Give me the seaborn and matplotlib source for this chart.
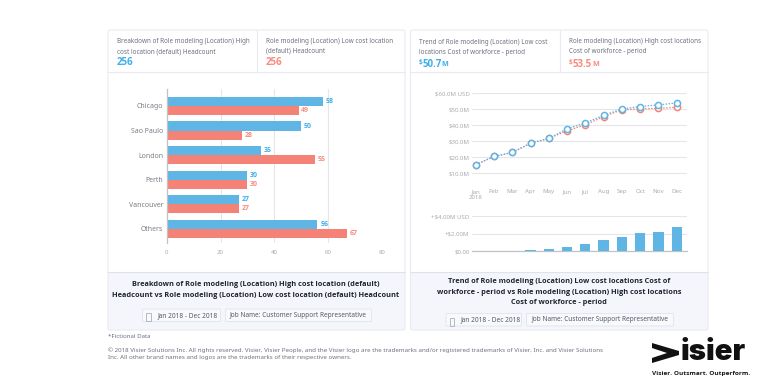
import matplotlib
matplotlib.use("Agg")
import matplotlib.pyplot as plt
from matplotlib.patches import Rectangle, FancyBboxPatch, Polygon
import pandas as pd
import seaborn as sns

locations = ["Chicago", "Sao Paulo", "London", "Perth", "Vancouver", "Others"]
high_cost = [58, 50, 35, 30, 27, 56]
low_cost = [49, 28, 55, 30, 27, 67]

months = ["Jan", "Feb", "Mar", "Apr", "May", "Jun", "Jul", "Aug", "Sep", "Oct", "Nov", "Dec"]
trend_low = [15.2, 20.4, 22.9, 28.7, 31.7, 37.7, 41.5, 46.2, 50.2, 51.7, 52.7, 54.0]
trend_high = [15.2, 20.4, 22.9, 28.7, 31.7, 36.5, 40.2, 45.4, 49.6, 50.2, 50.6, 51.2]
variance = [0.0, 0.0, 0.08, 0.2, 0.27, 0.5, 0.85, 1.23, 1.65, 2.04, 2.23, 2.8]

BLUE, RED = "#5FB5E4", "#F58276"
TBLUE, TRED = "#3FAEEA", "#FA8B80"
BORDER, FOOT = "#E7EBF1", "#F5F6FB"
BOLD = "Open Sans"

sns.set_theme(style="white")
plt.rcParams["font.family"] = ["Noto Sans", "DejaVu Sans"]

W, H = 768, 392
fig = plt.figure(figsize=(W / 100, H / 100), dpi=100, facecolor="white")

def axes_px(x0, y0, x1, y1, **kw):
    return fig.add_axes([x0 / W, 1 - y1 / H, (x1 - x0) / W, (y1 - y0) / H], **kw)

bg = axes_px(0, 0, W, H, zorder=0)
bg.set_xlim(0, W)
bg.set_ylim(H, 0)
bg.axis("off")

def card(x0, x1, xmid, ydiv, yfoot, ybot):
    bg.add_patch(Rectangle((x0, yfoot), x1 - x0, ybot - yfoot, fc=FOOT, ec="none"))
    bg.add_patch(FancyBboxPatch((x0, 30), x1 - x0, ybot - 30, boxstyle="round,pad=0,rounding_size=2",
                                fc="none", ec=BORDER, lw=0.8))
    bg.plot([x0, x1], [ydiv, ydiv], color=BORDER, lw=0.8)
    bg.plot([x0, x1], [yfoot, yfoot], color="#DDE3EA", lw=0.8)
    bg.plot([xmid, xmid], [30, ydiv], color=BORDER, lw=0.8)

card(108, 405, 256.5, 72, 272, 330)
card(410.5, 708, 559.5, 72, 272, 330)

def t(x, y, s, size=5.3, color="#6E7280", ha="left", va="center", **kw):
    bg.text(x, y, s, fontsize=size, color=color, ha=ha, va=va, **kw)

def tb(x, y, s, size, color, ha="left"):
    t(x, y, s, size, color, ha=ha, fontweight="bold", family=BOLD)

HS = 4.55
t(117, 41.5, "Breakdown of Role modeling (Location) High", HS)
t(117, 51.5, "cost location (default) Headcount", HS)
tb(117, 62.5, "256", 7.0, TBLUE)
t(266, 41.5, "Role modeling (Location) Low cost location", HS)
t(266, 51, "(default) Headcount", HS)
tb(266, 62.5, "256", 7.0, TRED)

t(419, 42, "Trend of Role modeling (Location) Low cost", HS)
t(419, 52, "locations Cost of workforce - period", HS)
tb(419, 62, "$", 4.8, TBLUE)
tb(422.5, 64, "50.7", 7.0, TBLUE)
tb(441.5, 64.5, "M", 5.2, TBLUE)
t(569, 41.5, "Role modeling (Location) High cost locations", HS)
t(569, 51.5, "Cost of workforce - period", HS)
tb(569, 62, "$", 4.8, TRED)
tb(573, 64, "53.5", 7.0, TRED)
tb(592.5, 64.5, "M", 5.2, TRED)

FS = 5.3
DK = "#1F2430"
tb(256, 285, "Breakdown of Role modeling (Location) High cost location (default)", FS, DK, ha="center")
tb(256, 295.5, "Headcount vs Role modeling (Location) Low cost location (default) Headcount", FS, DK, ha="center")
tb(559, 281.5, "Trend of Role modeling (Location) Low cost locations Cost of", FS, DK, ha="center")
tb(559, 292, "workforce - period vs Role modeling (Location) High cost locations", FS, DK, ha="center")
tb(559, 302.5, "Cost of workforce - period", FS, DK, ha="center")

def chip(x0, x1, y0, y1):
    bg.add_patch(FancyBboxPatch((x0, y0), x1 - x0, y1 - y0, boxstyle="round,pad=0,rounding_size=1",
                                fc="#F8F9FC", ec="#E3E6EE", lw=0.7))

CS = 4.68
CC = "#565A67"
chip(142.5, 220.5, 309, 321.5)
chip(225.5, 371.5, 309, 321.5)
bg.add_patch(Rectangle((145.5, 312.5), 5, 8, fc="none", ec="#B5B9C4", lw=0.7))
t(157, 315.3, "Jan 2018 - Dec 2018", CS, CC)
t(229.5, 315.3, "Job Name: Customer Support Representative", CS, CC)

chip(446, 521.5, 313.5, 326)
chip(526.5, 673.5, 313.5, 326)
bg.add_patch(Rectangle((449.5, 317.5), 4.5, 8, fc="none", ec="#B5B9C4", lw=0.7))
t(460.5, 319.8, "Jan 2018 - Dec 2018", CS, CC)
t(531, 319.8, "Job Name: Customer Support Representative", CS, CC)

t(108, 337, "*Fictional Data", 4.4, "#6E7280")
t(108, 350, "© 2018 Visier Solutions Inc. All rights reserved. Visier, Visier People, and the Visier logo are the trademarks and/or registered trademarks of Visier, Inc. and Visier Solutions", 4.45, "#6E7280")
t(108, 358, "Inc. All other brand names and logos are the trademarks of their respective owners.", 4.45, "#6E7280")

# logo
bg.add_patch(Polygon([(652, 343), (652, 348), (667, 353), (652, 358), (652, 363), (679, 355), (679, 351)],
                     closed=True, fc="#111111", ec="none"))
t(680, 353, "isier", 21, "#111111", fontweight="black", family="Inter")
tb(652.5, 373.5, "Visier. Outsmart. Outperform.", 4.67, "#1A1A1A")

bar_df = pd.DataFrame({
    "location": locations * 2,
    "headcount": high_cost + low_cost,
    "series": ["High"] * len(locations) + ["Low"] * len(locations),
})
ax = axes_px(166.7, 89, 382, 243, zorder=2)
ax.patch.set_alpha(0)
sns.barplot(data=bar_df, y="location", x="headcount", hue="series", order=locations,
            hue_order=["High", "Low"], palette=[BLUE, RED], width=0.74, gap=0, saturation=1,
            legend=False, ax=ax, zorder=3, edgecolor="none")
ax.set_xlim(0, 80)
ax.set_ylim(5.57, -0.69)
ax.set_xticks([0, 20, 40, 60, 80])
ax.grid(axis="x", color="#E4E6EA", lw=0.8)
ax.set_axisbelow(True)
ax.set_xlabel("")
ax.set_ylabel("")
for s in ["top", "right", "bottom"]:
    ax.spines[s].set_visible(False)
ax.spines["left"].set_color("#BFC3C9")
ax.spines["left"].set_linewidth(0.9)
ax.spines["left"].set_zorder(5)
ax.tick_params(axis="y", length=0, labelsize=5.0, labelcolor="#7A7D85", pad=2.5)
ax.tick_params(axis="x", length=0, labelsize=4.4, labelcolor="#A9ACB3", pad=5)
ax.bar_label(ax.containers[0], fontsize=5.0, color=TBLUE, fontweight="bold", family=BOLD, padding=2)
ax.bar_label(ax.containers[1], fontsize=5.0, color=TRED, fontweight="bold", family=BOLD, padding=2)

ax2 = axes_px(471.7, 93.3, 686.7, 189, zorder=2)
ax2.patch.set_alpha(0)
marker = dict(marker="o", markersize=4.4, markerfacecolor="white", markeredgewidth=1.1)
sns.lineplot(x=months, y=trend_high, sort=False, color=RED, dashes=(1.2, 1.2), lw=0.9,
             markeredgecolor=RED, ax=ax2, **marker)
sns.lineplot(x=months, y=trend_low, sort=False, color=BLUE, dashes=(1.2, 1.2), lw=0.9,
             markeredgecolor=BLUE, ax=ax2, **marker)
ax2.set_xlim(-0.22, 11.55)
ax2.set_ylim(0, 60)
ax2.set_yticks([10, 20, 30, 40, 50, 60])
ax2.set_yticklabels(["$10.0M", "$20.0M", "$30.0M", "$40.0M", "$50.0M", "$60.0M USD"])
ax2.set_xticks(range(12))
ax2.set_xticklabels(["Jan\n2018"] + months[1:])
ax2.grid(axis="y", color="#E4E6EA", lw=0.8)
ax2.grid(axis="x", visible=False)
ax2.set_axisbelow(True)
for s in ax2.spines.values():
    s.set_visible(False)
ax2.tick_params(axis="y", length=0, labelsize=4.4, labelcolor="#A9ACB3", pad=1.5)
ax2.tick_params(axis="x", length=0, labelsize=4.4, labelcolor="#A9ACB3", pad=0)
for lab in ax2.get_xticklabels():
    lab.set_linespacing(1.25)

ax3 = axes_px(471.7, 216, 686.7, 251.3, zorder=2)
ax3.patch.set_alpha(0)
sns.barplot(x=months, y=variance, color=BLUE, width=0.56, saturation=1, ax=ax3, zorder=3, edgecolor="none")
ax3.set_xlim(-0.22, 11.55)
ax3.set_ylim(0, 4)
ax3.set_yticks([0, 2, 4])
ax3.set_yticklabels(["$0.00", "+$2.00M", "+$4.00M USD"])
ax3.set_xticks([])
ax3.grid(axis="y", color="#E4E6EA", lw=0.8)
ax3.set_axisbelow(True)
for s in ["top", "right", "left"]:
    ax3.spines[s].set_visible(False)
ax3.spines["bottom"].set_color("#BFC3C9")
ax3.spines["bottom"].set_linewidth(0.9)
ax3.tick_params(axis="y", length=0, labelsize=4.4, labelcolor="#A9ACB3", pad=1.5)

fig.savefig("out.png", dpi=100, facecolor="white")
